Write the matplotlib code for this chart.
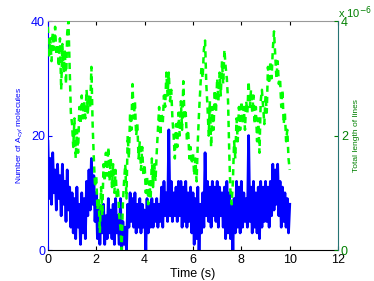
import numpy as np
import matplotlib
matplotlib.use('Agg')
from matplotlib import pyplot as plt

plt.rcParams['font.family'] = ['Liberation Sans', 'DejaVu Sans']

# sampled every 0.05 s from 0 to 10 s
time_s = np.linspace(0, 10, 201)

acyl_count = [
    19, 9, 16, 8, 17, 10, 14, 7, 15, 9,
    13, 6, 15, 8, 12, 5, 14, 7, 11, 4,
    10, 3, 9, 2, 11, 4, 8, 1, 10, 3,
    9, 2, 12, 6, 14, 7, 16, 8, 13, 5,
    10, 2, 8, 1, 7, 3, 8, 1, 6, 2,
    9, 3, 7, 2, 8, 1, 9, 3, 6, 1,
    9, 0, 5, 1, 4, 0, 8, 4, 10, 5,
    9, 4, 10, 3, 8, 4, 9, 3, 8, 4,
    7, 0, 9, 3, 8, 4, 9, 4, 8, 5,
    9, 4, 8, 5, 11, 4, 12, 6, 10, 5,
    21, 6, 12, 5, 10, 6, 11, 5, 12, 6,
    12, 4, 11, 5, 12, 4, 10, 5, 11, 3,
    10, 1, 9, 2, 11, 0, 8, 3, 10, 4,
    17, 6, 12, 5, 11, 4, 12, 6, 11, 5,
    12, 4, 11, 6, 10, 4, 11, 2, 12, 3,
    10, 2, 8, 0, 9, 3, 12, 4, 11, 3,
    12, 4, 10, 5, 9, 4, 20, 5, 11, 3,
    12, 4, 10, 3, 11, 2, 12, 4, 11, 5,
    12, 5, 11, 4, 12, 6, 15, 7, 14, 8,
    15, 6, 12, 4, 11, 5, 10, 4, 9, 3,
    8,
]

# total length of lines, in units of 1e-6
line_length_e6 = [
    3.9, 3.4, 3.7, 3.3, 3.8, 3.5, 3.9, 3.4, 3.6, 3.2,
    3.7, 2.8, 3.6, 3.1, 3.5, 2.9, 3.8, 4.0, 3.2, 2.4,
    2.2, 1.8, 2.3, 1.6, 2.1, 1.7, 2.5, 2.2, 2.7, 2.3,
    2.6, 2.3, 2.8, 2.4, 2.7, 2.5, 3.2, 2.2, 1.6, 1.1,
    1.3, 0.7, 0.9, 0.3, 1.1, 0.6, 1.5, 1.2, 1.7, 1.3,
    1.8, 1.2, 1.6, 1.1, 1.5, 1.0, 1.4, 0.9, 1.1, 0.6,
    0.4, 0.0, 0.8, 1.2, 1.5, 0.9, 2.0, 1.6, 2.4, 2.1,
    2.9, 2.3, 2.6, 2.0, 2.2, 1.6, 1.9, 1.4, 1.8, 1.3,
    1.5, 1.0, 1.3, 0.8, 1.2, 0.9, 1.6, 1.1, 1.5, 1.2,
    1.7, 2.1, 2.5, 2.0, 2.4, 2.2, 2.7, 2.5, 3.1, 2.7,
    3.1, 2.6, 2.8, 2.3, 2.0, 1.6, 2.2, 1.8, 2.4, 2.0,
    2.6, 2.1, 2.95, 2.3, 2.4, 1.9, 2.1, 1.6, 1.8, 1.5,
    1.7, 1.3, 1.6, 1.2, 1.9, 2.4, 2.8, 3.2, 3.0, 3.5,
    3.66, 2.9, 2.5, 2.0, 2.6, 1.8, 2.5, 2.1, 2.8, 2.4,
    3.0, 2.6, 3.1, 2.7, 3.3, 2.9, 3.5, 3.2, 3.0, 2.6,
    1.7, 1.0, 0.8, 1.2, 1.9, 1.6, 2.3, 1.9, 2.5, 2.1,
    2.6, 2.2, 2.5, 2.1, 2.6, 2.4, 2.95, 2.5, 2.8, 2.4,
    2.7, 2.2, 2.5, 1.9, 2.3, 1.7, 2.6, 2.8, 2.5, 2.2,
    2.7, 2.4, 3.2, 2.9, 3.3, 3.0, 3.5, 3.82, 3.4, 3.0,
    3.3, 2.9, 3.0, 2.5, 2.8, 2.2, 2.4, 1.9, 2.1, 1.6,
    1.4,
]

x_ticks = [0, 2, 4, 6, 8, 10, 12]
left_ticks = [0, 20, 40]
right_ticks = [0, 2, 4]

blue = (0, 0, 1)
dark_green = (0, 0.5, 0)

fig = plt.figure(figsize=(3.74, 2.81), dpi=100)
ax = fig.add_axes([0.128, 0.110, 0.776, 0.815])
ax2 = ax.twinx()

ax.plot(time_s, acyl_count, color=blue, lw=2.0)
ax2.plot(time_s, line_length_e6, color=(0, 1, 0), lw=1.8, ls=(0, (2.5, 2)))

ax.set_xlim(0, 12)
ax.set_ylim(0, 40)
ax2.set_ylim(0, 4)
ax.set_xticks(x_ticks)
ax.set_yticks(left_ticks)
ax2.set_yticks(right_ticks)

ax.tick_params(axis='x', direction='in', top=True, labelsize=9, length=3, pad=3)
ax.tick_params(axis='y', direction='in', colors=blue, labelsize=9, length=3, pad=2)
ax2.tick_params(axis='y', direction='in', colors=dark_green, labelsize=9, length=3, pad=2)

ax.spines['left'].set_color(blue)
ax.spines['top'].set_color('0.6')
ax2.spines['top'].set_visible(False)
ax2.spines['left'].set_visible(False)
ax2.spines['bottom'].set_visible(False)
ax2.spines['right'].set_color((0.15, 0.45, 0.45))
ax.spines['right'].set_visible(False)

ax.set_xlabel('Time (s)', fontsize=9, labelpad=1)
ax.set_ylabel('Number of A$_{cyl}$ molecules', fontsize=6, color=blue, labelpad=4)
ax2.set_ylabel('Total length of lines', fontsize=6, color=dark_green, labelpad=4)
ax2.text(1.0, 1.0, 'x 10$^{-6}$', transform=ax2.transAxes, fontsize=8,
         color=dark_green, ha='left', va='bottom')

fig.savefig('out.png', dpi=100)
